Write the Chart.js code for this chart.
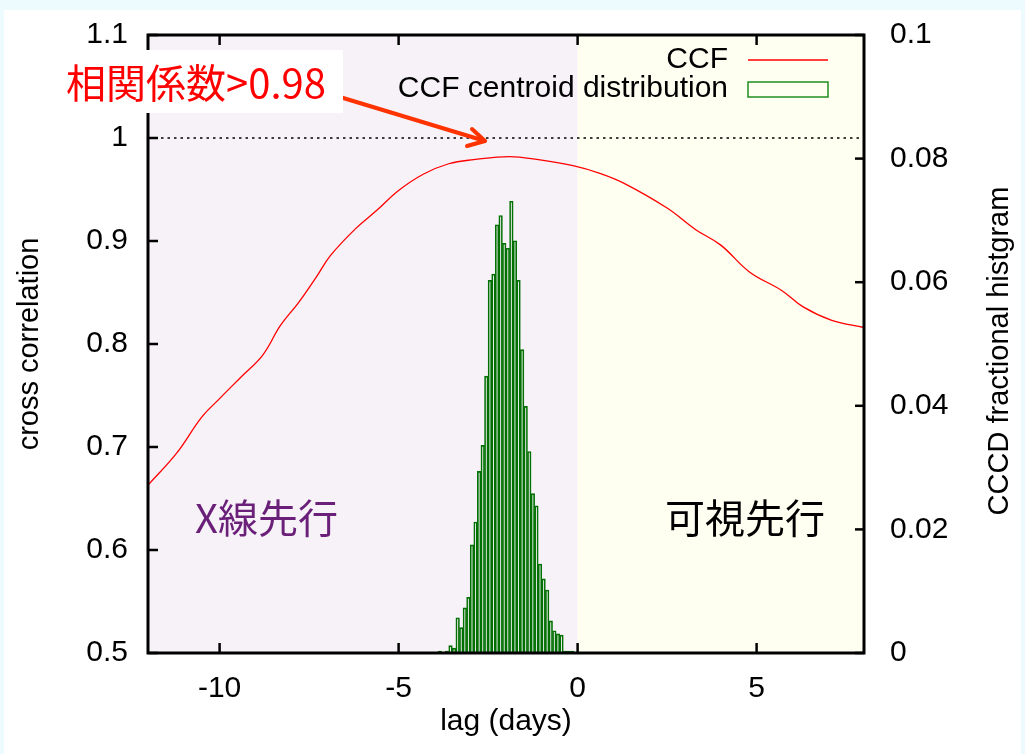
<!DOCTYPE html>
<html>
<head>
<meta charset="utf-8">
<script src="https://cdn.jsdelivr.net/npm/chart.js@4/dist/chart.umd.min.js"></script>
<style>
  html, body { margin: 0; padding: 0; background: #eefbfe; }
  #tarjeta { position: absolute; left: 4px; top: 10px; width: 1017px; height: 744px; background: #fff; }
  #grafico { position: absolute; left: 0; top: 0; }
</style>
</head>
<body>
<div id="tarjeta"></div>
<canvas id="grafico" width="1025" height="754"></canvas>
<script>
// curva de correlación cruzada: retardo (días) y coeficiente
const lagCcf = [-12, -11.2, -10.5, -10.0, -9.4, -8.8, -8.3, -7.8, -7.3, -6.9, -6.2, -5.6, -5.0, -4.3, -3.6,
  -2.9, -1.9, -1.1, -0.1, 0.6, 1.3, 2.5, 3.3, 4.0, 4.8, 5.7, 6.3, 7.1, 8.0];
const valCcf = [0.663, 0.694, 0.729, 0.747, 0.768, 0.789, 0.818, 0.840, 0.865, 0.886, 0.912, 0.930, 0.949, 0.965, 0.975,
  0.979, 0.982, 0.979, 0.973, 0.966, 0.956, 0.932, 0.911, 0.896, 0.870, 0.852, 0.836, 0.823, 0.816];

// histograma de centroides (centro del bin, fracción)
const lagBins = [-3.85, -3.65, -3.55, -3.45, -3.35, -3.25, -3.15, -3.05, -2.95, -2.85, -2.75, -2.65, -2.55, -2.45,
  -2.35, -2.25, -2.15, -2.05, -1.95, -1.85, -1.75, -1.65, -1.55, -1.45, -1.35, -1.25, -1.15, -1.05, -0.95,
  -0.85, -0.75, -0.65, -0.55, -0.45, -0.35, -0.25, -0.15, 1.35];
const fracBins = [0.0003, 0.0003, 0.0012, 0.0008, 0.0057, 0.0041, 0.0073, 0.0090, 0.0175, 0.0212, 0.0294, 0.0336, 0.0448, 0.0603,
  0.0613, 0.0693, 0.0708, 0.0663, 0.0655, 0.0731, 0.0667, 0.0603, 0.0491, 0.0399, 0.0326, 0.0258, 0.0238, 0.0144, 0.0120,
  0.0102, 0.0052, 0.0036, 0.0031, 0.0029, 0.0003, 0.0003, 0.0003, 0.0001];

const ticksLag = [-10, -5, 0, 5];
const nivelRef = 1;

const fuente = '"Liberation Sans", Arial, sans-serif';
const fuenteJa = '"Noto Sans CJK JP", sans-serif';

Chart.defaults.font.family = fuente;
Chart.defaults.font.size = 30;
Chart.defaults.color = '#000';

function linea(ctx, x1, y1, x2, y2) {
  ctx.beginPath();
  ctx.moveTo(x1, y1);
  ctx.lineTo(x2, y2);
  ctx.stroke();
}

// ejes verticales sin relleno extra arriba/abajo
function ajusteVertical(ancho) {
  return s => {
    s.width = ancho;
    s.paddingTop = 0;
    s.paddingBottom = 0;
  };
}

const decorado = {
  id: 'decorado',
  beforeDatasetsDraw(chart) {
    const { ctx, chartArea: a, scales } = chart;
    const x0 = scales.x.getPixelForValue(0);
    ctx.save();
    ctx.fillStyle = '#f6f2f8';
    ctx.fillRect(a.left, a.top, x0 - a.left, a.bottom - a.top);
    ctx.fillStyle = '#fefef1';
    ctx.fillRect(x0, a.top, a.right - x0, a.bottom - a.top);
    ctx.restore();
  },
  afterDatasetsDraw(chart) {
    const { ctx, chartArea: a, scales } = chart;
    ctx.save();

    // marcas hacia dentro
    ctx.strokeStyle = '#000';
    ctx.lineWidth = 2.5;
    scales.x.ticks.forEach(t => {
      const px = scales.x.getPixelForValue(t.value);
      linea(ctx, px, a.bottom, px, a.bottom - 10);
      linea(ctx, px, a.top, px, a.top + 10);
    });
    scales.y.ticks.forEach(t => {
      const py = scales.y.getPixelForValue(t.value);
      linea(ctx, a.left, py, a.left + 10, py);
    });
    scales.y2.ticks.forEach(t => {
      const py = scales.y2.getPixelForValue(t.value);
      linea(ctx, a.right, py, a.right - 9, py);
    });

    // marco
    ctx.lineWidth = 3;
    ctx.strokeRect(a.left, a.top, a.right - a.left, a.bottom - a.top);

    // título del eje derecho
    ctx.fillStyle = '#000';
    ctx.font = '29px ' + fuente;
    ctx.textAlign = 'center';
    ctx.textBaseline = 'middle';
    ctx.save();
    ctx.translate(1000, (a.top + a.bottom) / 2 + 7);
    ctx.rotate(-Math.PI / 2);
    ctx.fillText('CCCD fractional histgram', 0, 0);
    ctx.restore();

    // leyenda
    ctx.font = '30px ' + fuente;
    ctx.textAlign = 'right';
    ctx.fillText('CCF', 728, 60);
    ctx.fillText('CCF centroid distribution', 728, 89);
    ctx.strokeStyle = '#ff0000';
    ctx.lineWidth = 1.3;
    linea(ctx, 748, 60, 828, 60);
    ctx.strokeStyle = '#1f8f1f';
    ctx.lineWidth = 1.5;
    ctx.strokeRect(748, 82, 80, 15);

    // regiones
    ctx.textAlign = 'left';
    ctx.font = '40px ' + fuenteJa;
    ctx.fillStyle = '#6a1f78';
    ctx.fillText('X線先行', 195, 518);
    ctx.fillStyle = '#000';
    ctx.fillText('可視先行', 665, 518);

    // flecha hacia el máximo de la correlación
    ctx.strokeStyle = '#ff3300';
    ctx.lineWidth = 4;
    ctx.lineCap = 'round';
    ctx.lineJoin = 'round';
    const tx = 485, ty = 141;
    linea(ctx, 330, 94, tx, ty);
    ctx.beginPath();
    ctx.moveTo(472, 129);
    ctx.lineTo(tx, ty);
    ctx.lineTo(467, 146);
    ctx.stroke();

    // rótulo
    ctx.fillStyle = '#fff';
    ctx.fillRect(56, 50, 287, 63);
    ctx.fillStyle = '#ff0000';
    ctx.textBaseline = 'middle';
    ctx.fillText('相関係数>0.98', 66, 83);

    ctx.restore();
  }
};

const ctx = document.getElementById('grafico').getContext('2d');

new Chart(ctx, {
  type: 'bar',
  data: {
    datasets: [
      {
        type: 'line',
        label: 'CCF',
        data: lagCcf.map((x, i) => ({ x, y: valCcf[i] })),
        borderColor: '#ff0000',
        borderWidth: 1.3,
        pointRadius: 0,
        tension: 0.4,
        yAxisID: 'y'
      },
      {
        type: 'line',
        label: 'ref',
        data: [{ x: -12, y: nivelRef }, { x: 8, y: nivelRef }],
        borderColor: '#000',
        borderWidth: 1.6,
        borderDash: [2.5, 4],
        pointRadius: 0,
        yAxisID: 'y'
      },
      {
        label: 'CCF centroid distribution',
        data: lagBins.map((x, i) => ({ x, y: fracBins[i] })),
        backgroundColor: 'rgba(0,0,0,0)',
        borderColor: '#007000',
        borderWidth: 1,
        barPercentage: 1,
        categoryPercentage: 1,
        yAxisID: 'y2'
      }
    ]
  },
  options: {
    responsive: false,
    animation: false,
    layout: { padding: { left: 0, top: 35, right: 0, bottom: 0 } },
    plugins: {
      legend: { display: false },
      tooltip: { enabled: false }
    },
    scales: {
      x: {
        type: 'linear',
        min: -12,
        max: 8,
        offset: false,
        grid: { display: false, drawTicks: false, offset: false },
        border: { display: false },
        afterBuildTicks: s => { s.ticks = ticksLag.map(v => ({ value: v })); },
        ticks: { padding: 18, maxRotation: 0 },
        title: { display: true, text: 'lag (days)', padding: { top: 0, bottom: 14 } },
        afterFit: s => { s.height = 101; }
      },
      y: {
        position: 'left',
        min: 0.5,
        max: 1.1,
        grid: { display: false, drawTicks: false },
        border: { display: false },
        ticks: { stepSize: 0.1, padding: 20, callback: v => String(+v.toFixed(2)) },
        title: { display: true, text: 'cross correlation', font: { size: 29 }, padding: { top: 13, bottom: 0 } },
        afterFit: ajusteVertical(148)
      },
      y2: {
        position: 'right',
        min: 0,
        max: 0.1,
        grid: { display: false, drawTicks: false },
        border: { display: false },
        ticks: { stepSize: 0.02, padding: 26, callback: v => String(+v.toFixed(2)) },
        afterFit: ajusteVertical(161)
      }
    }
  },
  plugins: [decorado]
});
</script>
</body>
</html>
